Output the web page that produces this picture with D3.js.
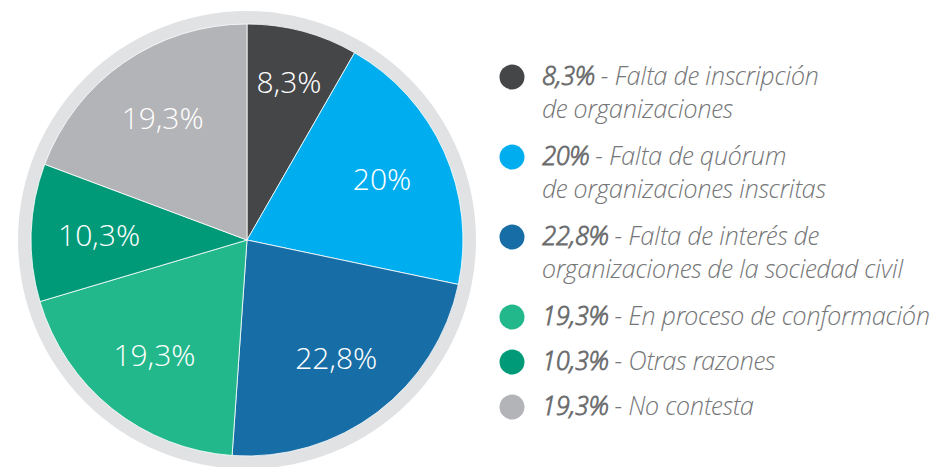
<!DOCTYPE html>
<html>
<head>
<meta charset="utf-8">
<script src="https://cdn.jsdelivr.net/npm/d3@7"></script>
<style>
  body { margin: 0; background: #fff; }
  svg { display: block; font-family: "Open Sans Light", "Open Sans", sans-serif; }
</style>
</head>
<body>
<script>
// data
const shares = [8.3, 20, 22.8, 19.3, 10.3, 19.3]
const pieLabels = ["8,3%", "20%", "22,8%", "19,3%", "10,3%", "19,3%"]
const legendLines = [
  ["Falta de inscripción", "de organizaciones"],
  ["Falta de quórum", "de organizaciones inscritas"],
  ["Falta de interés de", "organizaciones de la sociedad civil"],
  ["En proceso de conformación"],
  ["Otras razones"],
  ["No contesta"],
]
const colors = ["#454648", "#00aeef", "#176ea6", "#23b88b", "#009a79", "#b3b4b7"]

const width = 942
const height = 467
const cx = 247
const cy = 240
const radius = 216
const ringRadius = 229

const svg = d3.select("body").append("svg")
  .attr("width", width)
  .attr("height", height)

const pieG = svg.append("g").attr("transform", `translate(${cx},${cy})`)

// grey ring round the pie
pieG.append("circle")
  .attr("r", ringRadius)
  .attr("fill", "#e1e2e4")

const pie = d3.pie().sort(null).value(d => d)
const arcs = pie(shares)
const arc = d3.arc().innerRadius(0).outerRadius(radius)

pieG.selectAll("path.slice")
  .data(arcs)
  .enter()
  .append("path")
  .attr("class", "slice")
  .attr("d", arc)
  .attr("fill", (d, i) => colors[i])
  .attr("stroke", "#fff")
  .attr("stroke-width", 0.8)

pieG.selectAll("text.pct")
  .data(arcs)
  .enter()
  .append("text")
  .attr("class", "pct")
  .attr("text-anchor", "middle")
  .attr("dy", "0.36em")
  .attr("fill", "#fff")
  .attr("font-size", 30)
  .attr("font-weight", 300)
  .attr("transform", d => {
    const r = d.value < 10 ? 163 : 148
    const [x, y] = d3.arc().innerRadius(r).outerRadius(r).centroid(d)
    return `translate(${x},${y})`
  })
  .text((d, i) => pieLabels[i])

// legend
const legendX = 512
const textX = 542
const lineGap = 33
let y = 85

const legend = svg.append("g")

legendLines.forEach((lines, i) => {
  const g = legend.append("g")
  g.append("circle")
    .attr("cx", legendX)
    .attr("cy", y - 8)
    .attr("r", 12.5)
    .attr("fill", colors[i])

  lines.forEach((line, j) => {
    const t = g.append("text")
      .attr("x", textX)
      .attr("y", y + j * lineGap)
      .attr("font-size", 25.5)
      .attr("letter-spacing", -0.25)
      .attr("font-style", "italic")
      .attr("font-weight", 300)
      .attr("fill", "#767779")
    if (j === 0) {
      t.append("tspan")
        .attr("font-weight", 600)
        .attr("fill", "#6d6e70")
        .text(pieLabels[i])
      t.append("tspan").text(" - " + line)
    } else {
      t.text(line)
    }
  })
  y += lines.length > 1 ? 80 : 45
})
</script>
</body>
</html>
